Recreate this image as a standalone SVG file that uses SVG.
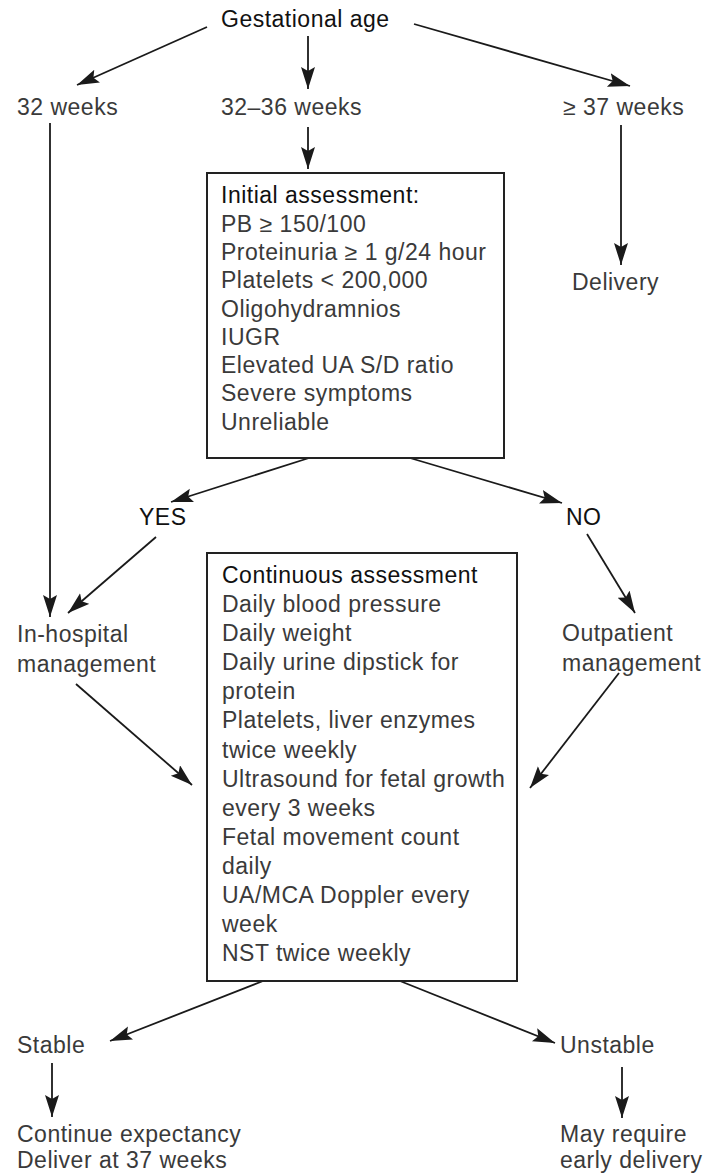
<svg xmlns="http://www.w3.org/2000/svg" width="715" height="1175" viewBox="0 0 715 1175">
  <style>
    text { font-family: "Liberation Sans", Arial, Helvetica, sans-serif; font-size: 23px; letter-spacing: 0.5px; fill: #3a3a3a; }
    text.head { fill: #111; }
    .box { fill: #fff; stroke: #222; stroke-width: 2; }
    .conn line { stroke: #1a1a1a; stroke-width: 1.8; fill: none; marker-end: url(#arrow); }
  </style>
  <defs>
    <marker id="arrow" markerUnits="userSpaceOnUse" markerWidth="24" markerHeight="16" refX="22" refY="7" orient="auto">
      <path d="M0,0 L22,7 L0,14 L4,7 z" fill="#1a1a1a"/>
    </marker>
  </defs>
  <rect width="715" height="1175" fill="#fff"/>

  <!-- connectors -->
  <g class="conn" id="connectors">
    <line x1="207" y1="27" x2="77" y2="85"/>
    <line x1="308" y1="36" x2="308" y2="89"/>
    <line x1="414" y1="24" x2="630" y2="86"/>
    <line x1="50" y1="123" x2="50" y2="617"/>
    <line x1="308" y1="127" x2="308" y2="169"/>
    <line x1="621" y1="125" x2="621" y2="265"/>
    <line x1="309" y1="458" x2="171" y2="502"/>
    <line x1="410" y1="458" x2="562" y2="503"/>
    <line x1="156" y1="537" x2="68" y2="613"/>
    <line x1="587" y1="534" x2="635" y2="613"/>
    <line x1="76" y1="684" x2="192" y2="785"/>
    <line x1="619" y1="673" x2="530" y2="788"/>
    <line x1="263" y1="981" x2="110" y2="1041"/>
    <line x1="400" y1="981" x2="555" y2="1043"/>
    <line x1="52" y1="1063" x2="52" y2="1117"/>
    <line x1="622" y1="1067" x2="622" y2="1118"/>
  </g>

  <g id="gestational-age"><text class="head" x="221" y="27">Gestational age</text></g>
  <g id="lt32"><text x="17" y="115">32 weeks</text></g>
  <g id="w32-36"><text x="221" y="115">32–36 weeks</text></g>
  <g id="ge37"><text x="563" y="115">≥ 37 weeks</text></g>
  <g id="delivery"><text x="572" y="290">Delivery</text></g>

  <g id="initial-assessment">
    <rect class="box" x="207" y="173" width="297" height="285"/>
    <text class="head" x="221" y="203">Initial assessment:</text>
    <text x="221" y="232">PB ≥ 150/100</text>
    <text x="221" y="260">Proteinuria ≥ 1 g/24 hour</text>
    <text x="221" y="288">Platelets &lt; 200,000</text>
    <text x="221" y="317">Oligohydramnios</text>
    <text x="221" y="345">IUGR</text>
    <text x="221" y="373">Elevated UA S/D ratio</text>
    <text x="221" y="401">Severe symptoms</text>
    <text x="221" y="430">Unreliable</text>
  </g>

  <g id="yes"><text class="head" x="139" y="525">YES</text></g>
  <g id="no"><text class="head" x="566" y="525">NO</text></g>

  <g id="in-hospital">
    <text x="17" y="642">In-hospital</text>
    <text x="17" y="672">management</text>
  </g>
  <g id="outpatient">
    <text x="562" y="641">Outpatient</text>
    <text x="562" y="671">management</text>
  </g>

  <g id="continuous-assessment">
    <rect class="box" x="207" y="553" width="310" height="428"/>
    <text class="head" x="222" y="583">Continuous assessment</text>
    <text x="222" y="612">Daily blood pressure</text>
    <text x="222" y="641">Daily weight</text>
    <text x="222" y="670">Daily urine dipstick for</text>
    <text x="222" y="699">protein</text>
    <text x="222" y="728">Platelets, liver enzymes</text>
    <text x="222" y="758">twice weekly</text>
    <text x="222" y="787">Ultrasound for fetal growth</text>
    <text x="222" y="816">every 3 weeks</text>
    <text x="222" y="845">Fetal movement count</text>
    <text x="222" y="874">daily</text>
    <text x="222" y="903">UA/MCA Doppler every</text>
    <text x="222" y="932">week</text>
    <text x="222" y="961">NST twice weekly</text>
  </g>

  <g id="stable"><text x="17" y="1053">Stable</text></g>
  <g id="unstable"><text x="560" y="1053">Unstable</text></g>
  <g id="continue">
    <text x="17" y="1142">Continue expectancy</text>
    <text x="17" y="1168">Deliver at 37 weeks</text>
  </g>
  <g id="early">
    <text x="560" y="1142">May require</text>
    <text x="560" y="1168">early delivery</text>
  </g>
</svg>
